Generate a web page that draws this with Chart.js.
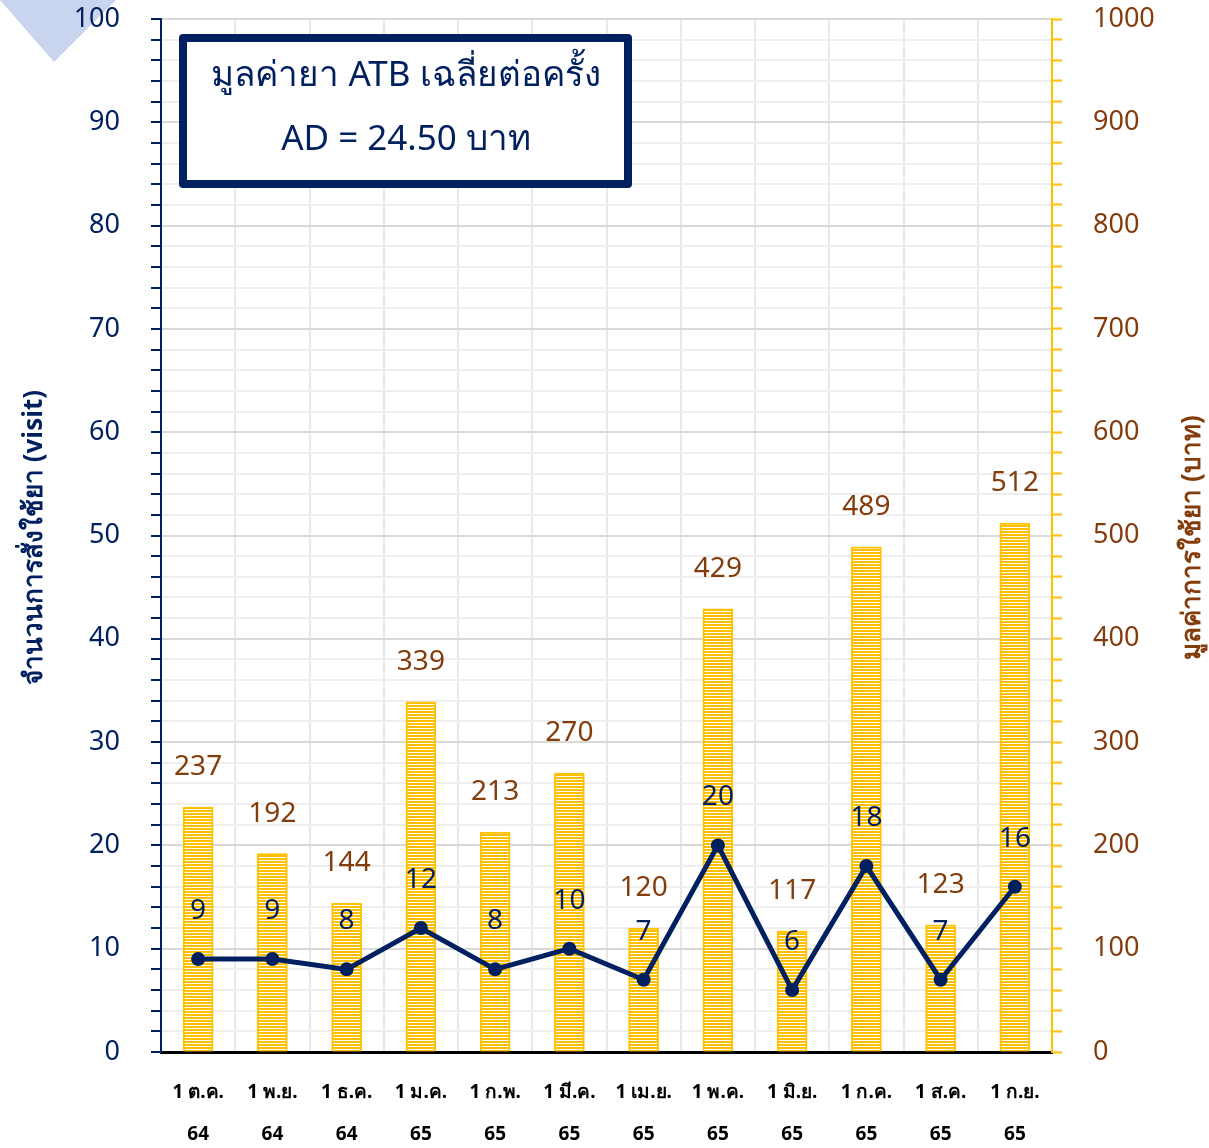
<!DOCTYPE html>
<html>
<head>
<meta charset="utf-8">
<script src="https://cdn.jsdelivr.net/npm/chart.js@4.4.1/dist/chart.umd.min.js"></script>
<style>
  html, body { margin: 0; padding: 0; background: #fff; }
  #wrap { width: 1209px; height: 1148px; position: relative; }
</style>
</head>
<body>
<div id="wrap"><canvas id="chart"></canvas></div>
<script>
// data
const months = [
  ["1 ต.ค.", "64"], ["1 พ.ย.", "64"], ["1 ธ.ค.", "64"], ["1 ม.ค.", "65"],
  ["1 ก.พ.", "65"], ["1 มี.ค.", "65"], ["1 เม.ย.", "65"], ["1 พ.ค.", "65"],
  ["1 มิ.ย.", "65"], ["1 ก.ค.", "65"], ["1 ส.ค.", "65"], ["1 ก.ย.", "65"]
];
const visits = [9, 9, 8, 12, 8, 10, 7, 20, 6, 18, 7, 16];
const costs = [237, 192, 144, 339, 213, 270, 120, 429, 117, 489, 123, 512];
const titleLines = ["มูลค่ายา ATB เฉลี่ยต่อครั้ง", "AD = 24.50 บาท"];
const leftTitle = "จำนวนการสั่งใช้ยา (visit)";
const rightTitle = "มูลค่าการใช้ยา (บาท)";

const NAVY = "#002060";
const GOLD = "#FFC000";
const BROWN = "#843C0C";
const FONT = "'Noto Sans', 'DejaVu Sans', sans-serif";

// horizontal striped fill for the bars
function stripes() {
  const c = document.createElement("canvas");
  c.width = 3; c.height = 3;
  const g = c.getContext("2d");
  g.fillStyle = "#fff";
  g.fillRect(0, 0, 3, 3);
  g.fillStyle = GOLD;
  g.fillRect(0, 0, 3, 2);
  return g.createPattern(c, "repeat");
}

const decor = {
  id: "decor",
  beforeDraw(chart) {
    const ctx = chart.ctx;
    ctx.save();
    ctx.fillStyle = "#fff";
    ctx.fillRect(0, 0, chart.width, chart.height);
    // corner triangle
    ctx.fillStyle = "#C9D5EF";
    ctx.beginPath();
    ctx.moveTo(0, 0);
    ctx.lineTo(116, 0);
    ctx.lineTo(54, 62);
    ctx.closePath();
    ctx.fill();
    ctx.restore();
  },
  afterDraw(chart) {
    const ctx = chart.ctx;
    const area = chart.chartArea;
    const yL = chart.scales.y, yR = chart.scales.y1;
    ctx.save();
    // axis titles, both read bottom to top
    ctx.textAlign = "center";
    ctx.textBaseline = "middle";
    ctx.font = "bold 26px " + FONT;
    ctx.fillStyle = NAVY;
    ctx.translate(yL.left + 35, (area.top + area.bottom) / 2 + 2);
    ctx.rotate(-Math.PI / 2);
    ctx.fillText(leftTitle, 0, 0);
    ctx.restore();
    ctx.save();
    ctx.textAlign = "center";
    ctx.textBaseline = "middle";
    ctx.font = "bold 26px " + FONT;
    ctx.fillStyle = BROWN;
    ctx.translate(yR.right - 16, (area.top + area.bottom) / 2 + 2);
    ctx.rotate(-Math.PI / 2);
    ctx.fillText(rightTitle, 0, 0);
    ctx.restore();

    // title box
    ctx.save();
    ctx.fillStyle = "#fff";
    ctx.fillRect(183, 38, 445, 146);
    ctx.strokeStyle = NAVY;
    ctx.lineWidth = 8;
    ctx.lineJoin = "round";
    ctx.strokeRect(183, 38, 445, 146);
    ctx.fillStyle = NAVY;
    ctx.font = "35px " + FONT;
    ctx.textAlign = "center";
    ctx.textBaseline = "middle";
    ctx.fillText(titleLines[0], 406, 76);
    ctx.fillText(titleLines[1], 406, 140);
    ctx.restore();
  },
  afterDatasetsDraw(chart) {
    const ctx = chart.ctx;
    ctx.save();
    ctx.textAlign = "center";
    ctx.textBaseline = "middle";
    ctx.font = "28px " + FONT;
    ctx.fillStyle = BROWN;
    chart.getDatasetMeta(1).data.forEach((el, i) => {
      ctx.fillText(costs[i], el.x, el.y - 40);
    });
    ctx.fillStyle = NAVY;
    chart.getDatasetMeta(0).data.forEach((el, i) => {
      ctx.fillText(visits[i], el.x, el.y - 48);
    });
    ctx.restore();
  }
};

const ctx = document.getElementById("chart").getContext("2d");
new Chart(ctx, {
  type: "bar",
  data: {
    labels: months,
    datasets: [
      {
        type: "line",
        label: "visit",
        data: visits,
        yAxisID: "y",
        borderColor: NAVY,
        backgroundColor: NAVY,
        borderWidth: 5,
        pointRadius: 7,
        pointBackgroundColor: NAVY,
        pointBorderWidth: 0,
        tension: 0,
        order: 0
      },
      {
        type: "bar",
        label: "cost",
        data: costs,
        yAxisID: "y1",
        backgroundColor: stripes(),
        borderColor: GOLD,
        borderWidth: 2,
        barThickness: 30,
        order: 1
      }
    ]
  },
  options: {
    responsive: true,
    maintainAspectRatio: false,
    animation: false,
    layout: { padding: { top: 19 } },
    plugins: {
      legend: { display: false },
      tooltip: { enabled: false }
    },
    scales: {
      x: {
        grid: { color: "#e9e9e9", lineWidth: 2, drawTicks: false, offset: true },
        border: { color: "#000", width: 3 },
        ticks: {
          color: "#000",
          padding: 20,
          font: { family: FONT, size: 19, weight: "bold", lineHeight: "42px" },
          maxRotation: 0,
          autoSkip: false
        },
        afterFit(s) { s.height = 96; }
      },
      y: {
        position: "left",
        min: 0,
        max: 100,
        grid: {
          color: (c) => (c.tick && c.tick.value % 10 === 0 ? "#d9d9d9" : "#eeeeee"),
          lineWidth: 2,
          tickColor: NAVY,
          tickLength: 10,
          tickWidth: 2
        },
        border: { color: NAVY, width: 2 },
        ticks: {
          stepSize: 2,
          autoSkip: false,
          color: NAVY,
          padding: 31,
          font: { family: FONT, size: 27 },
          callback: (v) => (v % 10 === 0 ? v : "")
        },
        afterFit(s) { s.width = 161; s.paddingTop = 0; s.paddingBottom = 0; }
      },
      y1: {
        position: "right",
        min: 0,
        max: 1000,
        grid: {
          drawOnChartArea: false,
          tickColor: GOLD,
          tickLength: 10,
          tickWidth: 2
        },
        border: { color: GOLD, width: 2 },
        ticks: {
          stepSize: 20,
          autoSkip: false,
          color: BROWN,
          padding: 31,
          font: { family: FONT, size: 27 },
          callback: (v) => (v % 100 === 0 ? v : "")
        },
        afterFit(s) { s.width = 157; s.paddingTop = 0; s.paddingBottom = 0; }
      }
    }
  },
  plugins: [decor]
});
</script>
</body>
</html>
